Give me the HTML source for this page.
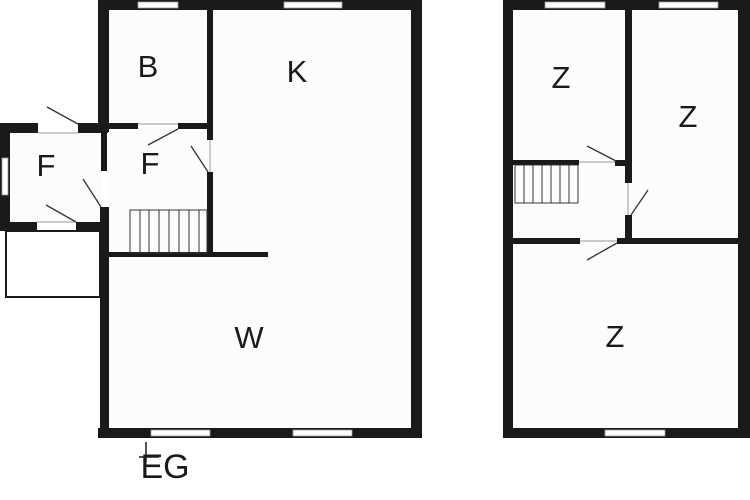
<!DOCTYPE html>
<html><head><style>html,body{margin:0;padding:0;background:#fff;}svg{display:block}</style></head>
<body>
<svg width="750" height="500" viewBox="0 0 750 500" xmlns="http://www.w3.org/2000/svg">
<rect width="750" height="500" fill="#fff"/>
<g fill="#fdfcfa">
<rect x="108" y="10" width="303" height="418"/>
<rect x="513" y="10" width="225" height="418"/>
<rect x="10" y="133" width="92" height="90"/>
</g>
<g fill="#1a1a1a">
<rect x="98" y="0" width="324" height="10"/>
<rect x="98" y="0" width="11" height="132"/>
<rect x="411" y="0" width="11" height="437"/>
<rect x="98" y="428" width="324" height="10"/>
<rect x="100" y="207" width="9" height="230"/>
<rect x="101" y="128" width="6" height="43"/>
<rect x="207" y="10" width="6" height="130"/>
<rect x="207" y="172" width="6" height="84"/>
<rect x="108" y="123" width="30" height="6"/>
<rect x="178" y="123" width="35" height="6"/>
<rect x="108" y="252" width="160" height="5"/>
<rect x="0" y="123" width="38" height="10"/>
<rect x="78" y="123" width="30" height="10"/>
<rect x="0" y="123" width="10" height="108"/>
<rect x="0" y="222" width="37" height="9"/>
<rect x="76" y="222" width="32" height="9"/>
<rect x="503" y="0" width="247" height="10"/>
<rect x="503" y="0" width="10" height="438"/>
<rect x="738" y="0" width="12" height="438"/>
<rect x="503" y="428" width="247" height="10"/>
<rect x="625" y="0" width="7" height="183"/>
<rect x="625" y="215" width="7" height="29"/>
<rect x="513" y="238" width="67" height="6"/>
<rect x="617" y="238" width="121" height="6"/>
<rect x="513" y="160" width="66" height="5"/>
<rect x="615" y="160" width="17" height="6"/>
</g>
<g fill="#fff" stroke="#999" stroke-width="0.8">
<rect x="138" y="2" width="40" height="6"/>
<rect x="284" y="2" width="58" height="6"/>
<rect x="151" y="430" width="59" height="6"/>
<rect x="293" y="430" width="59" height="6"/>
<rect x="545" y="2" width="60" height="6"/>
<rect x="659" y="2" width="59" height="6"/>
<rect x="605" y="430" width="60" height="6"/>
<rect x="2" y="158" width="6" height="37"/>
</g>
<g stroke="#999" stroke-width="1" fill="none">
<line x1="38" y1="133" x2="78" y2="133"/><line x1="37" y1="222" x2="76" y2="222"/>
<line x1="138" y1="124" x2="178" y2="124"/><line x1="210" y1="140" x2="210" y2="172"/>
<line x1="580" y1="241" x2="617" y2="241"/><line x1="579" y1="162" x2="615" y2="162"/>
<line x1="628" y1="183" x2="628" y2="215"/>
</g>
<g stroke="#333" stroke-width="1.3" fill="none">
<line x1="47" y1="107" x2="78" y2="124"/>
<line x1="148" y1="145" x2="178" y2="129"/>
<line x1="191" y1="146" x2="208" y2="172"/>
<line x1="83" y1="179" x2="101" y2="207"/>
<line x1="46" y1="205" x2="76" y2="222"/>
<line x1="587" y1="146" x2="616" y2="161"/>
<line x1="648" y1="190" x2="631" y2="215"/>
<line x1="587" y1="260" x2="617" y2="243"/>
<rect x="6" y="231" width="94" height="66" stroke="#1a1a1a" stroke-width="2"/>
</g>
<g stroke="#333" stroke-width="1" fill="none">
<rect x="130" y="210" width="77" height="43"/>
<line x1="140" y1="210" x2="140" y2="253"/><line x1="149" y1="210" x2="149" y2="253"/>
<line x1="159" y1="210" x2="159" y2="253"/><line x1="169" y1="210" x2="169" y2="253"/>
<line x1="179" y1="210" x2="179" y2="253"/><line x1="189" y1="210" x2="189" y2="253"/>
<line x1="199" y1="210" x2="199" y2="253"/>
<rect x="515" y="165" width="63" height="38"/>
<line x1="524" y1="165" x2="524" y2="203"/><line x1="533" y1="165" x2="533" y2="203"/>
<line x1="542" y1="165" x2="542" y2="203"/><line x1="551" y1="165" x2="551" y2="203"/>
<line x1="560" y1="165" x2="560" y2="203"/><line x1="569" y1="165" x2="569" y2="203"/>
</g>
<g font-family="Liberation Sans, sans-serif" font-size="31" fill="#1a1a1a" text-anchor="middle">
<text x="148" y="77">B</text>
<text x="297" y="82">K</text>
<text x="46" y="176">F</text>
<text x="150" y="174">F</text>
<text x="249" y="348">W</text>
<text x="561" y="88">Z</text>
<text x="688" y="127">Z</text>
<text x="615" y="347">Z</text>
<text x="165" y="478" font-size="34">EG</text>
</g>
<line x1="146" y1="442" x2="146" y2="462" stroke="#1a1a1a" stroke-width="1.5"/>
<line x1="139" y1="457" x2="159" y2="457" stroke="#1a1a1a" stroke-width="1.5"/>
</svg>
</body></html>
